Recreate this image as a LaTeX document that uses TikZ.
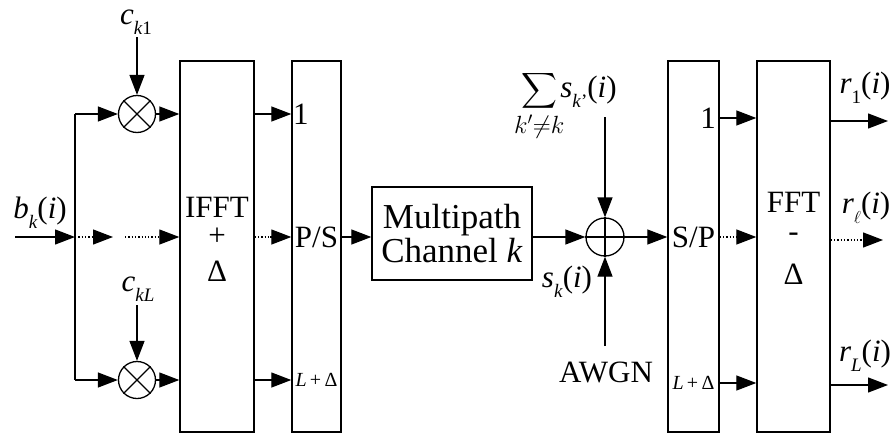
\documentclass[tikz,border=0pt]{standalone}
\usepackage{amsmath}
\usepackage{fontspec}
\setmainfont{Liberation Serif}
\usetikzlibrary{arrows.meta}
\newcommand\lowsub[1]{\raisebox{-0.32em}{\fontsize{19}{19}\selectfont #1}}
\newcommand\zeroclap[1]{\hbox to 0pt{\hss$\scriptstyle #1$\hss}}
\begin{document}
\begin{tikzpicture}[x=1pt,y=-1pt,
  arr/.style={-{Triangle[length=20pt,width=15pt]},line width=1.3pt},
  dotl/.style={dotted,line width=1.3pt},
  blk/.style={draw,line width=1.4pt,inner sep=0pt},
  mult/.style={circle,draw,line width=1.3pt,minimum size=37pt,inner sep=0pt},
  txt/.style={inner sep=0pt,font=\fontsize{31}{35}\selectfont},
  small/.style={inner sep=0pt,font=\fontsize{20}{22}\selectfont}]
\useasboundingbox (0,0) rectangle (894,434);
% boxes
\node[blk,minimum width=74pt,minimum height=371pt] (ifft) at (217,246.5) {};
\node[blk,minimum width=49pt,minimum height=371pt] (ps) at (316.5,246.5) {};
\node[blk,minimum width=160pt,minimum height=93pt,align=center,font=\fontsize{35}{39}\selectfont] (mc) at (452,233.5) {Multipath\\[-5pt]Channel \textit{k}};
\node[blk,minimum width=51pt,minimum height=371pt] (sp) at (693.5,246.5) {};
\node[blk,minimum width=73pt,minimum height=371pt] (fft) at (793.5,246.5) {};
% box texts
\node[txt] (t1) at (217,207) {IFFT};
\node[txt] (t2) at (217,237) {+};
\node[txt] (t3) at (217,271) {Δ};
\node[txt] (f1) at (793.5,202) {FFT};
\node[txt] (f2) at (793.5,237) {-};
\node[txt] (f3) at (793.5,274) {Δ};
\node[txt,anchor=west] (p1) at (293,114) {1};
\node[txt] (p2) at (316.5,237) {P/S};
\node[small] (p3) at (316.5,380) {\textit{L}\,+\,Δ};
\node[txt,anchor=east] (s1) at (716,118) {1};
\node[txt] (s2) at (693.5,237) {S/P};
\node[small] (s3) at (693.5,383) {\textit{L}\,+\,Δ};
% multipliers and adder
\node[mult] (m1) at (137,114) {};
\node[mult] (m2) at (137,380) {};
\draw[line width=1.2pt] (m1.north west) -- (m1.south east) (m1.north east) -- (m1.south west);
\draw[line width=1.2pt] (m2.north west) -- (m2.south east) (m2.north east) -- (m2.south west);
\node[mult,minimum size=38pt] (add) at (605,237) {};
\draw[line width=1.2pt] (add.north) -- (add.south) (add.west) -- (add.east);
% labels
\node[txt] (bk) at (40,213) {\textit{b}\lowsub{\textit{k}}(\textit{i})};
\node[txt] (ck1) at (136,22) {\textit{c}\lowsub{\textit{k}1}};
\node[txt] (ckL) at (138,289) {\textit{c}\lowsub{\textit{kL}}};
\node[txt] (sk) at (567,282) {\textit{s}\lowsub{\textit{k}}(\textit{i})};
\node[txt] (awgn) at (606,372) {AWGN};
\node[txt] (sum) at (569,106) {{\fontsize{38}{40}\selectfont$\displaystyle\sum_{\zeroclap{k'\neq k}}$}\hspace{3pt}\textit{s}\lowsub{\textit{k}'}(\textit{i})};
\node[txt] (r1) at (865,88) {\textit{r}\lowsub{1}(\textit{i})};
\node[txt] (rl) at (866,208) {\textit{r}\lowsub{$\ell$}(\textit{i})};
\node[txt] (rL) at (865,356) {\textit{r}\lowsub{\textit{L}}(\textit{i})};
% coordinates
\coordinate (in) at (15,237);
\coordinate (br) at (75,237);
\coordinate (brt) at (75,114);
\coordinate (brb) at (75,380);
\coordinate (d1) at (93,237);
\coordinate (d2) at (113,237);
\coordinate (d3) at (125,237);
\coordinate (d4) at (160,237);
\coordinate (ck1e) at (137,37);
\coordinate (ckLe) at (137,305);
\coordinate (sume) at (605,117);
\coordinate (awe) at (605,346);
\coordinate (o1) at (888,121);
\coordinate (o2a) at (863,240);
\coordinate (o2) at (883,240);
\coordinate (o3) at (888,385);
% connectors
\draw[arr] (in) -- (br);
\draw[line width=1.3pt] (brt) -- (brb);
\draw[arr] (brt) -- (m1);
\draw[arr] (brb) -- (m2);
\draw[arr] (ck1e) -- (m1);
\draw[arr] (ckLe) -- (m2);
\draw[arr] (m1.east) -- (m1.east -| ifft.west);
\draw[arr] (m2.east) -- (m2.east -| ifft.west);
\draw[dotl] (br) -- (d1);
\draw[arr] (d1) -- (d2);
\draw[dotl] (d3) -- (d4);
\draw[arr] (d4) -- (d4 -| ifft.west);
\draw[arr] (ifft.east |- brt) -- (ps.west |- brt);
\draw[dotl] (ifft.east |- br) -- (270,237);
\draw[arr] (270,237) -- (ps.west |- br);
\draw[arr] (ifft.east |- brb) -- (ps.west |- brb);
\draw[arr] (ps.east |- br) -- (mc.west |- br);
\draw[arr] (mc.east |- add) -- (add.west);
\draw[arr] (sume) -- (add.north);
\draw[arr] (awe) -- (add.south);
\draw[arr] (add.east) -- (sp.west |- add);
\draw[arr] (sp.east |- s1) -- (fft.west |- s1);
\draw[dotl] (sp.east |- add) -- (737,237);
\draw[arr] (737,237) -- (fft.west |- add);
\draw[arr] (sp.east |- s3) -- (fft.west |- s3);
\draw[arr] (fft.east |- o1) -- (o1);
\draw[dotl] (fft.east |- o2) -- (o2a);
\draw[arr] (o2a) -- (o2);
\draw[arr] (fft.east |- o3) -- (o3);
\end{tikzpicture}
\end{document}
